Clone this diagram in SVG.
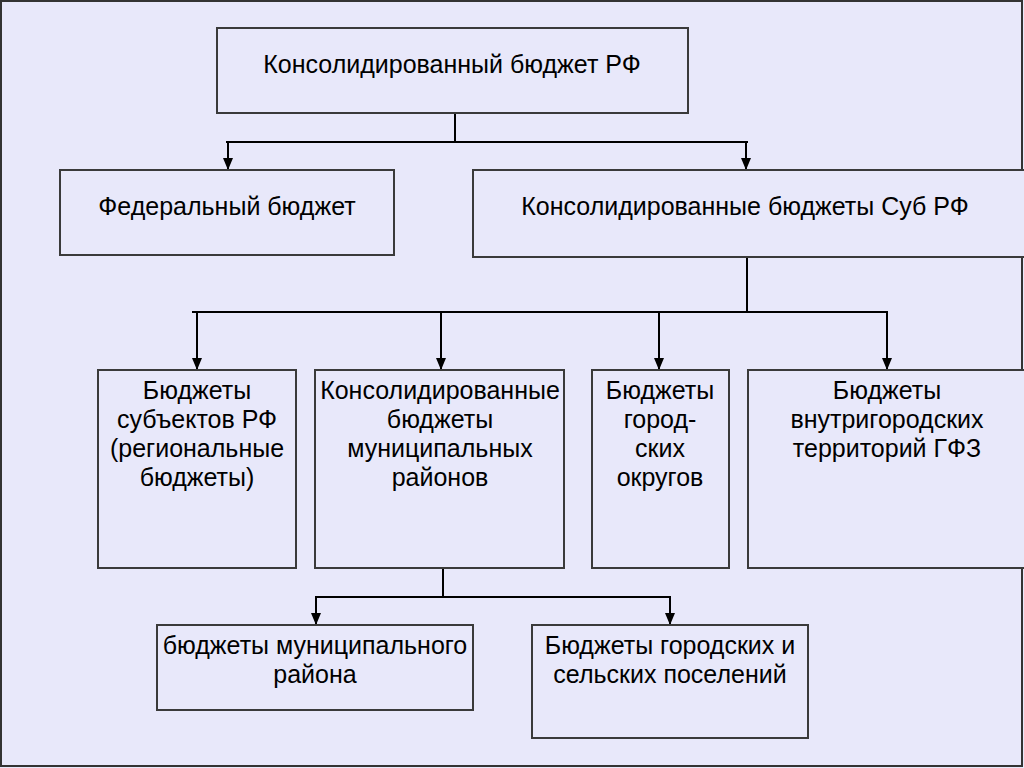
<svg xmlns="http://www.w3.org/2000/svg" width="1024" height="768" viewBox="0 0 1024 768">
<defs>
<style>
.bg{fill:#e8e8fa;}
.box{fill:#e8e8fa;stroke:#3a3a3a;stroke-width:2;}
.t{font-family:"Liberation Sans",Arial,sans-serif;font-size:25px;fill:#000;text-anchor:middle;}
.c{fill:none;stroke:#000;stroke-width:2;}
</style>
<marker id="ah" markerWidth="12" markerHeight="12" viewBox="0 0 12 12" refX="12" refY="6" orient="auto" markerUnits="userSpaceOnUse">
<path d="M0,1 L12,6 L0,11 Z" fill="#000"/>
</marker>
</defs>
<rect class="bg" x="0" y="0" width="1024" height="768"/>
<rect x="1" y="1" width="1021" height="765" fill="none" stroke="#333" stroke-width="2"/>
<g id="connectors">
<path class="c" d="M455,113 V142 M226,142 H748" />
<path class="c" d="M228,142 V170" marker-end="url(#ah)"/>
<path class="c" d="M746,142 V170" marker-end="url(#ah)"/>
<path class="c" d="M747,257 V312 M192,312 H888"/>
<path class="c" d="M197,312 V370" marker-end="url(#ah)"/>
<path class="c" d="M441,312 V370" marker-end="url(#ah)"/>
<path class="c" d="M659,312 V370" marker-end="url(#ah)"/>
<path class="c" d="M887,312 V370" marker-end="url(#ah)"/>
<path class="c" d="M443,568 V597 M315,597 H671"/>
<path class="c" d="M316,597 V625" marker-end="url(#ah)"/>
<path class="c" d="M670,597 V625" marker-end="url(#ah)"/>
</g>
<g id="n_consolidated_rf">
<rect class="box" x="217" y="28" width="471" height="85"/>
<text class="t" x="452" y="73">Консолидированный бюджет РФ</text>
</g>
<g id="n_federal">
<rect class="box" x="60" y="170" width="334" height="85"/>
<text class="t" x="227" y="215">Федеральный бюджет</text>
</g>
<g id="n_consolidated_sub">
<rect class="box" x="473" y="170" width="560" height="87"/>
<text class="t" x="745" y="215">Консолидированные бюджеты Суб РФ</text>
</g>
<g id="n_subjects">
<rect class="box" x="98" y="370" width="198" height="198"/>
<text class="t" x="197" y="399">Бюджеты</text>
<text class="t" x="197" y="428">субъектов РФ</text>
<text class="t" x="197" y="457">(региональные</text>
<text class="t" x="197" y="486">бюджеты)</text>
</g>
<g id="n_municipal_districts">
<rect class="box" x="315" y="370" width="249" height="198"/>
<text class="t" x="440" y="399">Консолидированные</text>
<text class="t" x="440" y="428">бюджеты</text>
<text class="t" x="440" y="457">муниципальных</text>
<text class="t" x="440" y="486">районов</text>
</g>
<g id="n_city_districts">
<rect class="box" x="592" y="370" width="137" height="198"/>
<text class="t" x="660" y="399">Бюджеты</text>
<text class="t" x="660" y="428">город-</text>
<text class="t" x="660" y="457">ских</text>
<text class="t" x="660" y="486">округов</text>
</g>
<g id="n_intracity">
<rect class="box" x="748" y="370" width="285" height="198"/>
<text class="t" x="887" y="399">Бюджеты</text>
<text class="t" x="887" y="428">внутригородских</text>
<text class="t" x="887" y="457">территорий ГФЗ</text>
</g>
<g id="n_municipal_district">
<rect class="box" x="157" y="625" width="316" height="85"/>
<text class="t" x="315" y="654">бюджеты муниципального</text>
<text class="t" x="315" y="683">района</text>
</g>
<g id="n_settlements">
<rect class="box" x="532" y="625" width="276" height="113"/>
<text class="t" x="670" y="654">Бюджеты городских и</text>
<text class="t" x="670" y="683">сельских поселений</text>
</g>
</svg>
